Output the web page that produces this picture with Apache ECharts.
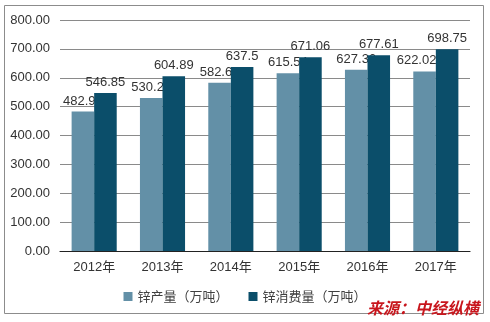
<!DOCTYPE html>
<html><head><meta charset="utf-8">
<script src="https://cdn.jsdelivr.net/npm/echarts@6/dist/echarts.min.js"></script>
<style>html,body{margin:0;padding:0;background:#fff}#c{width:490px;height:322px;}</style>
</head><body><div id="c"></div>
<script>
var categories = ['2012年','2013年','2014年','2015年','2016年','2017年'];
var production = [482.97, 530.24, 582.66, 615.54, 627.30, 622.02];
var productionLabels = ['482.97','530.24','582.66','615.54','627.30','622.02'];
var consumption = [546.85, 604.89, 637.5, 671.06, 677.61, 698.75];
var consumptionLabels = ['546.85','604.89','637.5','671.06','677.61','698.75'];
var seriesNames = ['锌产量（万吨）','锌消费量（万吨）'];

var FONT = '"Liberation Sans", Arial, "Noto Sans CJK SC", sans-serif';
var chart = echarts.init(document.getElementById('c'), null, {renderer:'canvas'});
var prodData = production.map(function(v,i){
  var d = {value:v};
  if (i === production.length-1) d.label = {offset:[-8,0]};
  return d;
});
chart.setOption({
  animation:false,
  textStyle:{fontFamily:FONT},
  graphic:[
    {type:'rect', z:0, shape:{x:4.5,y:5.5,width:479,height:308}, style:{fill:'none',stroke:'#8c8c8c',lineWidth:1}},
    {type:'text', z:100, left:367, top:300, style:{text:'来源：中经纵横', fill:'#c8161d', font:'italic bold 16px "Noto Sans CJK SC", sans-serif'}}
  ],
  grid:{left:60,right:20,top:20,bottom:71},
  legend:{bottom:14,left:'center',itemWidth:9,itemHeight:9,itemGap:20,icon:'rect',
    textStyle:{fontSize:13,color:'#404040',fontFamily:'"Noto Sans CJK SC", sans-serif'},data:seriesNames},
  xAxis:{type:'category',data:categories,
    axisLine:{lineStyle:{color:'#222',width:1.2}},axisTick:{show:false},
    axisLabel:{fontSize:13,color:'#333',margin:10,fontFamily:FONT}},
  yAxis:{type:'value',min:0,max:800,interval:100,
    axisLine:{show:false},axisTick:{show:false},
    axisLabel:{fontSize:13,color:'#333',margin:10,formatter:function(v){return v.toFixed(2);}},
    splitLine:{lineStyle:{color:'#8a8a8a',width:1}}},
  series:[
    {name:seriesNames[0],type:'bar',z:2,barGap:'0%',barCategoryGap:'34%',
      itemStyle:{color:'#6390a7'},data:prodData,
      label:{show:true,position:'top',distance:4,fontSize:13,color:'#333',
        formatter:function(p){return productionLabels[p.dataIndex];}}},
    {name:seriesNames[1],type:'bar',z:3,barGap:'0%',barCategoryGap:'34%',
      itemStyle:{color:'#0b4e6a'},data:consumption,
      label:{show:true,position:'top',distance:4,fontSize:13,color:'#333',
        formatter:function(p){return consumptionLabels[p.dataIndex];}}}
  ]
});
</script></body></html>
